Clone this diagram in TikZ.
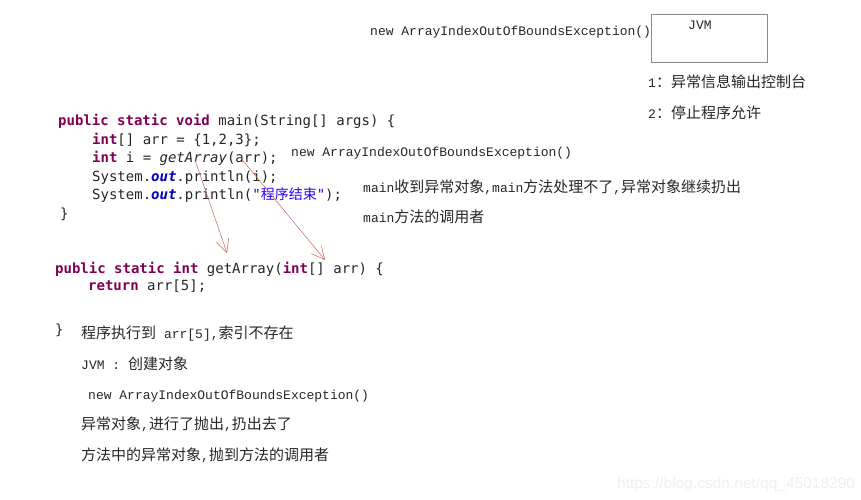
\documentclass[tikz,border=0pt]{standalone}
\usepackage{fontspec}
\setmainfont{Liberation Mono}
\newfontfamily\zhfont{Noto Sans CJK SC}
\newfontfamily\codefont{DejaVu Sans Mono}
\newfontfamily\urlfont{Liberation Sans}
\usetikzlibrary{arrows.meta}
\definecolor{kwcol}{HTML}{7F0055}
\definecolor{fldcol}{HTML}{0000C0}
\definecolor{strcol}{HTML}{2A00FF}
\definecolor{arrcol}{HTML}{C8645A}
\newcommand{\kw}[1]{{\color{kwcol}\bfseries #1}}
\newcommand{\fld}[1]{{\color{fldcol}\bfseries\itshape #1}}
\newcommand{\zh}[1]{{\zhfont\fontsize{15}{18}\selectfont #1}}

\begin{document}
\begin{tikzpicture}[x=1pt,y=-1pt,
        code/.style={anchor=base west, inner sep=0pt,
                        font=\codefont\fontsize{14}{16}\selectfont, text=black!85},
        note/.style={anchor=base west, inner sep=0pt,
                        font=\fontsize{13}{15}\selectfont, text=black!85},
        throw/.style={draw=arrcol, line width=0.5pt,
                        -{Straight Barb[length=13pt,width=13pt]}}]
    \useasboundingbox (0,0) rectangle (861,500);
    % top: the JVM
    \node (topnew) [note] at (370,36) {new ArrayIndexOutOfBoundsException()};
    \node (jvmbox) [draw=black!45, line width=0.7pt, minimum width=116pt,
            minimum height=48pt, inner sep=0pt, anchor=north west] at (651,14) {};
    \node (jvm) [note] at (688,30) {JVM};
    \node (out1) [note] at (648,88) {1\zh{：异常信息输出控制台}};
    \node (out2) [note] at (648,118) {2\zh{：停止程序允许}};
    % main method
    \node (m1) [code] at (58,125) {\kw{public} \kw{static} \kw{void} main(String[] args) \{};
    \node (m2) [code] at (92,144) {\kw{int}[] arr = \{1,2,3\};};
    \node (m3) [code] at (92,162) {\kw{int} i = \textit{getArray}(arr);};
    \node (m4) [code] at (92,181) {System.\fld{out}.println(i);};
    \node (m5) [code] at (92,199) {System.\fld{out}.println({\color{strcol}"{\zhfont 程序结束}"});};
    \node (m6) [code] at (60,218) {\}};
    \node (midnew) [note] at (291,156) {new ArrayIndexOutOfBoundsException()};
    \node (recv1) [note] at (363,192) {main\zh{收到异常对象},main\zh{方法处理不了},\zh{异常对象继续扔出}};
    \node (recv2) [note] at (363,222) {main\zh{方法的调用者}};
    % getArray method
    \node (g1) [code] at (55,273) {\kw{public} \kw{static} \kw{int} getArray(\kw{int}[] arr) \{};
    \node (g2) [code] at (88,290) {\kw{return} arr[5];};
    \node (g3) [code] at (55,334) {\}};
    % what happens
    \node (s1) [note] at (81,338) {\zh{程序执行到} arr[5],\zh{索引不存在}};
    \node (s2) [note] at (81,369) {JVM : \zh{创建对象}};
    \node (s3) [note] at (88,399) {new ArrayIndexOutOfBoundsException()};
    \node (s4) [note] at (81,429) {\zh{异常对象},\zh{进行了抛出},\zh{扔出去了}};
    \node (s5) [note] at (81,460) {\zh{方法中的异常对象},\zh{抛到方法的调用者}};
    \node (mark) [anchor=base west, inner sep=0pt, text=black!6,
            font=\urlfont\fontsize{15.5}{17}\selectfont] at (617,488) {https://blog.csdn.net/qq\_45018290};
    % calls
    \coordinate (callfrom) at (195,160);
    \coordinate (callto) at (227,253);
    \coordinate (argfrom) at (240,157);
    \coordinate (argto) at (325,260);
    \draw [throw] (callfrom) -- (callto);
    \draw [throw] (argfrom) -- (argto);
\end{tikzpicture}
\end{document}
